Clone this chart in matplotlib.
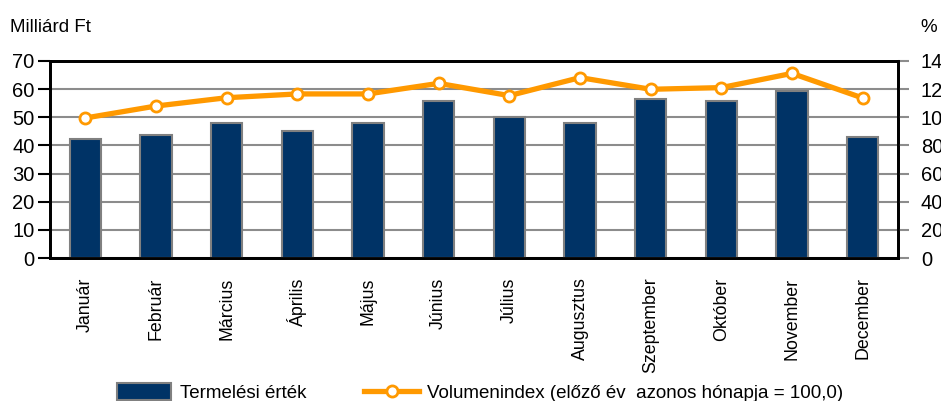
import matplotlib
matplotlib.use("Agg")
import matplotlib.pyplot as plt
from matplotlib import font_manager

# --- Data ---
months = ["Január", "Február", "Március", "Április", "Május", "Június",
          "Július", "Augusztus", "Szeptember", "Október", "November", "December"]
production = [42.3, 43.7, 48.0, 45.1, 48.0, 55.9, 50.0, 48.1, 56.6, 55.9, 59.5, 43.1]
volume_index = [99.5, 108.0, 113.9, 116.6, 116.6, 124.1, 115.4, 128.2, 119.9, 121.1, 131.2, 113.7]

names = {f.name for f in font_manager.fontManager.ttflist}
family = "Liberation Sans Narrow" if "Liberation Sans Narrow" in names else "Liberation Sans"
plt.rcParams["font.family"] = [family, "DejaVu Sans"]
plt.rcParams["font.size"] = 13

navy = "#003366"
orange = "#FF9900"
grid_gray = "#8c8c8c"

fig = plt.figure(figsize=(9.41, 4.01), dpi=100)
ax = fig.add_axes([50 / 941, 143 / 401, 848 / 941, 197 / 401])
ax2 = ax.twinx()

x = list(range(len(months)))
bars = ax.bar(x, production, width=0.44, color=navy, edgecolor="#808080",
              linewidth=1.5, zorder=3, label="Termelési érték")
line, = ax2.plot(x, volume_index, color=orange, linewidth=3.8, marker="o",
                 markersize=8, markerfacecolor="white", markeredgecolor=orange,
                 markeredgewidth=2, zorder=4,
                 label="Volumenindex (előző év  azonos hónapja = 100,0)")

ax.set_xlim(-0.5, 11.5)
ax.set_ylim(0, 70)
ax.set_yticks(range(0, 71, 10))
ax2.set_ylim(0, 140)
ax2.set_yticks(range(0, 141, 20))

ax.yaxis.grid(True, color=grid_gray, linewidth=1.5, zorder=0)
ax.set_axisbelow(True)

ax.set_xticks(x)
ax.set_xticklabels(months, rotation=90, fontsize=12.8)
ax.tick_params(axis="x", length=0, pad=14)
ax.tick_params(axis="y", length=9, width=1.5, direction="out", pad=2, labelsize=14.5)
ax2.tick_params(axis="y", length=8, width=1.5, direction="out", color=grid_gray,
                pad=8.5, labelsize=14.5)

for a in (ax, ax2):
    for s in a.spines.values():
        s.set_linewidth(2)
        s.set_color("black")

fig.text(10 / 941, 1 - 27 / 401, "Milliárd Ft", ha="left", va="center", fontsize=13.5)
fig.text(920 / 941, 1 - 27 / 401, "%", ha="left", va="center", fontsize=13.5)

fig.legend(handles=[bars, line], loc="lower left", bbox_to_anchor=(100 / 941, -0.045),
           ncol=2, frameon=False, handlelength=2.9, handleheight=1.0,
           columnspacing=3.1, handletextpad=0.45, fontsize=13.5)

fig.savefig("out.png", dpi=100)
